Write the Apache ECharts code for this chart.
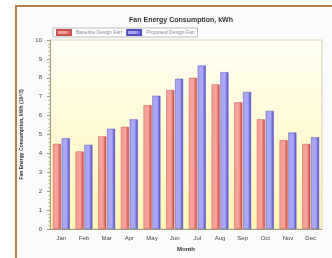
<!DOCTYPE html>
<html>
<head>
<meta charset="utf-8">
<script src="https://cdn.jsdelivr.net/npm/echarts@6/dist/echarts.min.js"></script>
<style>
  html, body { margin: 0; padding: 0; background: #ffffff; }
  #frame {
    position: absolute; left: 15px; top: 5px; width: 320px; height: 260px;
    border-left: 2px solid #b5804a; border-top: 2px solid #b5804a;
    background: #fbfbfb;
  }
  #chart { position: absolute; left: 0; top: 0; width: 332px; height: 258px; }
</style>
</head>
<body>
<div id="frame"></div>
<div id="chart"></div>
<script>
// month labels
const months = ['Jan', 'Feb', 'Mar', 'Apr', 'May', 'Jun', 'Jul', 'Aug', 'Sep', 'Oct', 'Nov', 'Dec']
// fan energy (kWh x 10^3)
const baseline = [4.5, 4.1, 4.9, 5.4, 6.55, 7.35, 8.0, 7.65, 6.7, 5.8, 4.7, 4.5]
const proposed = [4.8, 4.45, 5.3, 5.8, 7.05, 7.95, 8.65, 8.3, 7.25, 6.25, 5.1, 4.85]
const seriesNames = ['Baseline Design Fan', 'Proposed Design Fan']

const chart = echarts.init(document.getElementById('chart'))

function grad (light, dark) {
  return new echarts.graphic.LinearGradient(0, 0, 1, 0, [
    { offset: 0, color: light },
    { offset: 0.6, color: light },
    { offset: 1, color: dark }
  ])
}

const option = {
  backgroundColor: 'transparent',
  animation: false,
  title: {
    text: 'Fan Energy Consumption, kWh',
    left: 176,
    textAlign: 'center',
    top: 12,
    textStyle: { fontSize: 7, fontWeight: 'bold', color: '#333', fontFamily: 'Liberation Sans' }
  },
  legend: {
    data: seriesNames,
    left: 53,
    top: 28,
    icon: 'rect',
    itemWidth: 14,
    itemHeight: 5,
    itemGap: 4,
    padding: [1, 3],
    borderColor: '#bbb',
    borderWidth: 1,
    backgroundColor: '#fff',
    textStyle: { fontSize: 5, color: '#888', fontFamily: 'Liberation Sans' }
  },
  grid: {
    left: 50,
    right: 10,
    top: 40,
    bottom: 29,
    show: true,
    borderColor: '#d8d4b0',
    borderWidth: 1,
    backgroundColor: new echarts.graphic.LinearGradient(0, 0, 0, 1, [
      { offset: 0, color: '#fffff4' },
      { offset: 1, color: '#fff4b4' }
    ])
  },
  xAxis: {
    type: 'category',
    data: months,
    name: 'Month',
    nameLocation: 'middle',
    nameGap: 15,
    nameTextStyle: { fontSize: 6, fontWeight: 'bold', color: '#333', fontFamily: 'Liberation Sans' },
    axisLine: { lineStyle: { color: '#a0a080' } },
    axisTick: { show: false },
    axisLabel: { fontSize: 6, color: '#444', margin: 6, fontFamily: 'Liberation Sans' }
  },
  yAxis: {
    type: 'value',
    min: 0,
    max: 10,
    interval: 1,
    name: 'Fan Energy Consumption, kWh (10^3)',
    nameLocation: 'middle',
    nameGap: 26,
    nameTextStyle: { fontSize: 5, fontWeight: 'bold', color: '#333', fontFamily: 'Liberation Sans' },
    axisLine: { show: true, lineStyle: { color: '#a0a080' } },
    axisTick: { show: true, length: 3, lineStyle: { color: '#a0a080' } },
    minorTick: { show: true, splitNumber: 5, length: 2, lineStyle: { color: '#c8c8a8' } },
    splitLine: { show: false },
    axisLabel: { fontSize: 6, color: '#444', margin: 8, fontFamily: 'Liberation Sans' }
  },
  series: [
    {
      name: seriesNames[0],
      type: 'bar',
      data: baseline,
      barWidth: 8,
      barGap: '10%',
      itemStyle: { color: grad('#f5a29a', '#c83c3c'), borderColor: '#c85050', borderWidth: 0.5 }
    },
    {
      name: seriesNames[1],
      type: 'bar',
      data: proposed,
      barWidth: 8,
      itemStyle: { color: grad('#a9a6f4', '#4a46c8'), borderColor: '#5050c0', borderWidth: 0.5 }
    }
  ]
}

chart.setOption(option)
</script>
</body>
</html>
